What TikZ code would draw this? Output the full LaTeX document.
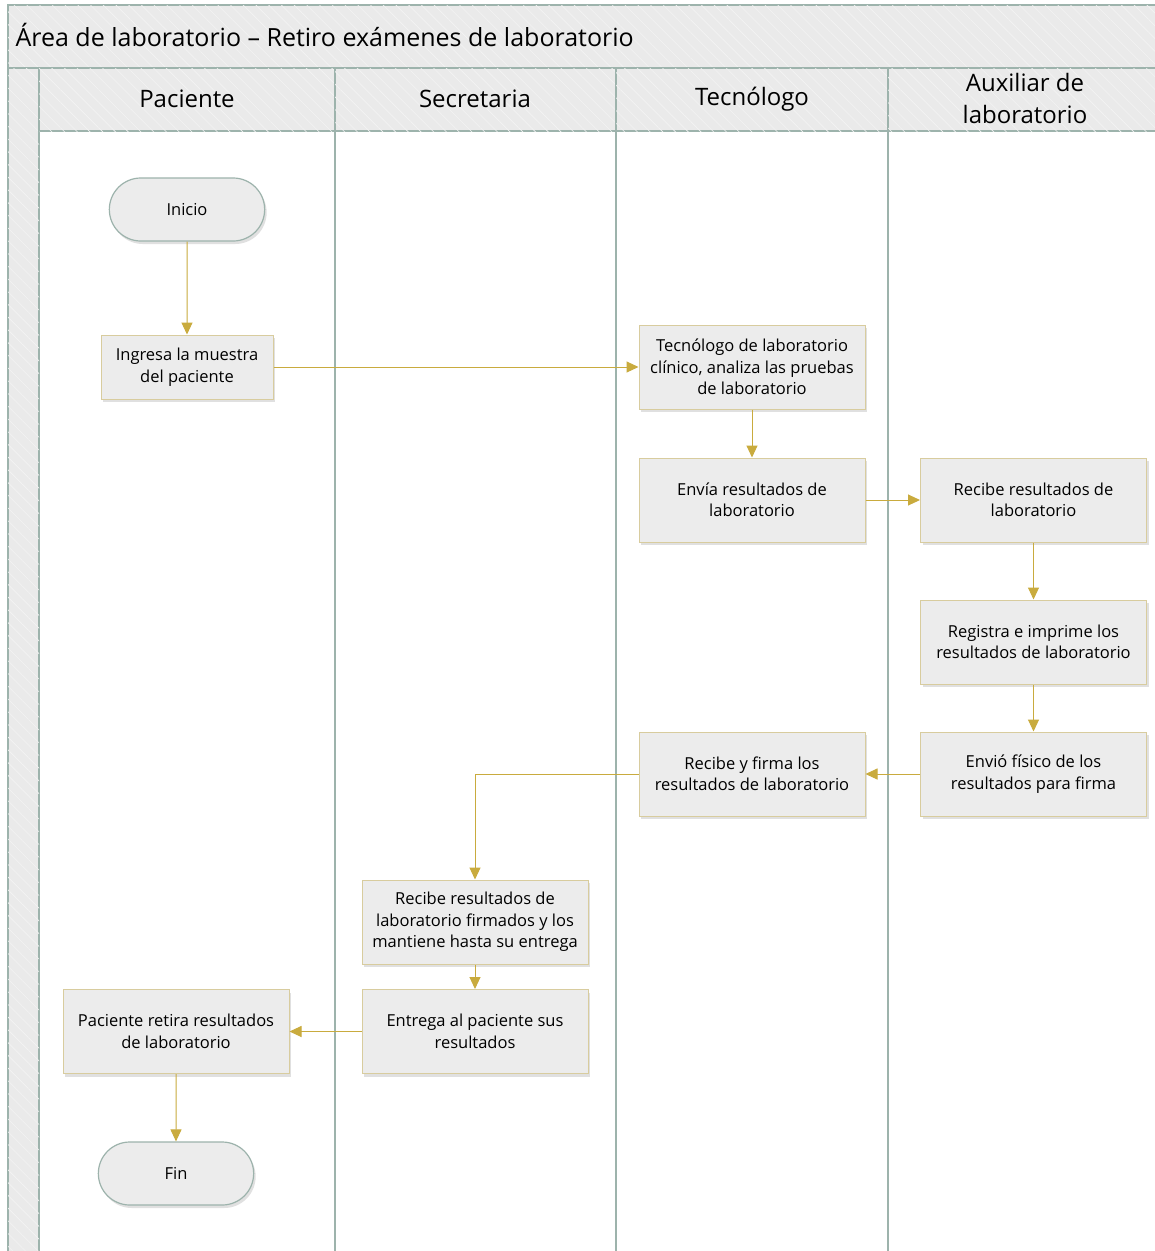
\documentclass[tikz,border=0pt]{standalone}
\usepackage{fontspec}
\setmainfont{Open Sans}
\usetikzlibrary{shadows,arrows.meta,patterns.meta,shapes.misc}
\definecolor{lanec}{HTML}{9DB3AC}
\definecolor{hdrfill}{HTML}{EAEAEA}
\definecolor{hatch}{HTML}{F3F3F3}
\definecolor{boxc}{HTML}{D8CC9E}
\definecolor{boxfill}{HTML}{ECECEC}
\definecolor{edgec}{HTML}{C9AB3E}
\begin{document}
\begin{tikzpicture}[x=1pt,y=-1pt,
  hdr/.style={draw=lanec, line width=1.3pt, fill=hdrfill,
    postaction={pattern={Lines[angle=-45,distance=9pt,line width=0.6pt]}, pattern color=hatch}},
  lanetxt/.style={font=\fontsize{24}{32}\selectfont, align=center, text=black},
  stepbox/.style={rectangle, draw=boxc, line width=1pt, fill=boxfill,
    minimum width=226, minimum height=84, align=center, inner sep=2pt,
    font=\fontsize{16.5}{21.5}\selectfont, text=black,
    drop shadow={shadow xshift=2pt, shadow yshift=-3pt, opacity=0.2, fill=black!60}},
  term/.style={rounded rectangle, draw=lanec, line width=1.2pt, fill=boxfill,
    minimum width=162, minimum height=63, font=\fontsize{16.5}{20}\selectfont, text=black,
    drop shadow={shadow xshift=2pt, shadow yshift=-3pt, opacity=0.2, fill=black!60}},
  flow/.style={draw=edgec, line width=1pt, -{Triangle[length=12pt,width=11pt]}}
]
\useasboundingbox (0,0) rectangle (1155,1251);
% pool
\fill[white] (8,5) rectangle (1165,1260);
\path[hdr] (8,5) rectangle (1165,68);
\node[anchor=west, font=\fontsize{25}{30}\selectfont, text=black] (title) at (12,35) {Área de laboratorio – Retiro exámenes de laboratorio};
\path[hdr] (8,68) rectangle (39,1260);
\path[hdr] (39,68) rectangle (335,131);
\path[hdr] (335,68) rectangle (616,131);
\path[hdr] (616,68) rectangle (888,131);
\path[hdr] (888,68) rectangle (1165,131);
\draw[draw=lanec, line width=1.3pt] (335,131) -- (335,1260)
  (616,131) -- (616,1260) (888,131) -- (888,1260);
\node[lanetxt] (h1) at (187,99) {Paciente};
\node[lanetxt] (h2) at (475,99) {Secretaria};
\node[lanetxt] (h3) at (752,99) {Tecnólogo};
\node[lanetxt, font=\fontsize{24}{32}\selectfont] (h4) at (1025,98) {Auxiliar de\\laboratorio};

% nodes
\node[term] (inicio) at (187,209.5) {Inicio};
\node[stepbox, minimum width=172, minimum height=64] (ingresa) at (187,367) {Ingresa la muestra\\del paciente};
\node[stepbox] (tec) at (752,367) {Tecnólogo de laboratorio\\clínico, analiza las pruebas\\de laboratorio};
\node[stepbox] (envia) at (752,500) {Envía resultados de\\laboratorio};
\node[stepbox] (recibe) at (1033.5,500) {Recibe resultados de\\laboratorio};
\node[stepbox] (registra) at (1033.5,642) {Registra e imprime los\\resultados de laboratorio};
\node[stepbox] (envio) at (1033.5,774) {Envió físico de los\\resultados para firma};
\node[stepbox] (firma) at (752,774) {Recibe y firma los\\resultados de laboratorio};
\node[stepbox] (firmados) at (475,922) {Recibe resultados de\\laboratorio firmados y los\\mantiene hasta su entrega};
\node[stepbox] (entrega) at (475,1031.5) {Entrega al paciente sus\\resultados};
\node[stepbox] (retira) at (176,1031.5) {Paciente retira resultados\\de laboratorio};
\node[term] (fin) at (176,1173.5) {Fin};

% connectors
\draw[flow] (inicio) -- (ingresa);
\draw[flow] (ingresa) -- (tec);
\draw[flow] (tec) -- (envia);
\draw[flow] (envia) -- (recibe);
\draw[flow] (recibe) -- (registra);
\draw[flow] (registra) -- (envio);
\draw[flow] (envio) -- (firma);
\draw[flow] (firma.west) -| (firmados.north);
\draw[flow] (firmados) -- (entrega);
\draw[flow] (entrega) -- (retira);
\draw[flow] (retira) -- (fin);
\end{tikzpicture}
\end{document}
